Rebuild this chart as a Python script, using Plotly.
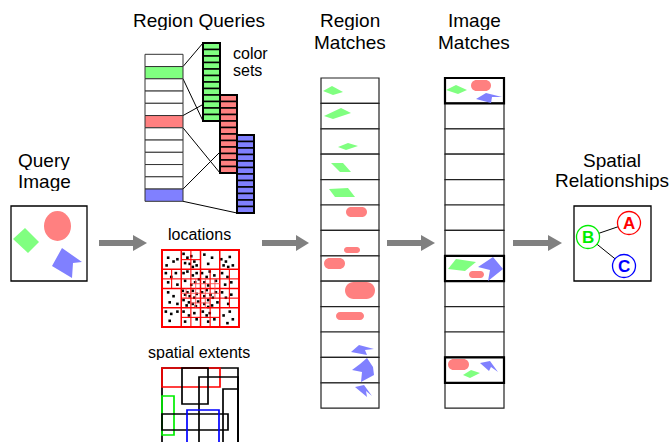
import plotly.graph_objects as go

W, H = 671, 442
GREEN, RED, BLUE, GRAY = "#80ff80", "#ff8080", "#8080ff", "#808080"
FONT = "Liberation Sans, Arial, Helvetica, sans-serif"

# ---- text labels: (text, x, y, size, anchor) ----
labels = [
    ("Region Queries", 199, 20, 19, "center"),
    ("color", 231, 53, 16, "left"),
    ("sets", 231, 70, 16, "left"),
    ("Query", 44, 160.5, 19, "center"),
    ("Image", 44, 181.5, 19, "center"),
    ("locations", 199, 234, 16, "center"),
    ("spatial extents", 199, 352, 16, "center"),
    ("Region", 350, 20, 19, "center"),
    ("Matches", 350, 42, 19, "center"),
    ("Image", 474, 20, 19, "center"),
    ("Matches", 474, 42, 19, "center"),
    ("Spatial", 612, 160.5, 19, "center"),
    ("Relationships", 612, 180.5, 19, "center"),
]

# ---- query image ----
query_box = (11, 206, 87, 281)
query_ellipse = (44, 211, 71, 241)
query_diamond = [(13, 239), (25, 228), (39, 242), (28, 253)]
query_chevron = [(62, 248), (82, 262), (73, 263), (72, 278), (52, 266)]

# ---- gray arrows: (x_start, x_head, x_end, y_center) ----
arrows = [(99, 133, 147, 243), (262, 296, 309, 243), (387, 421, 435, 243), (513, 548, 562, 243)]

# ---- region queries ----
rq_x = (145, 183)
rq_top, rq_row_h, rq_rows = 54.3, 12.25, 12
rq_highlight = {1: GREEN, 5: RED, 11: BLUE}
color_sets = [  # colour, x0, x1, y0, y1, row index in query list
    (GREEN, 203, 220, 43, 121, 1),
    (RED, 220, 237, 95, 173, 5),
    (BLUE, 237, 254, 135, 213, 11),
]
color_set_cells = 12

# ---- locations quadtree ----
loc_box = (162, 250, 239, 327)
loc_splits1 = [(1, 0), (0, 1), (1, 1), (2, 1), (3, 1), (1, 2), (2, 2), (3, 2), (1, 3), (2, 3)]
loc_splits2 = [(1, 1, 1, 1), (2, 1, 0, 1), (2, 1, 1, 1), (1, 2, 0, 0), (1, 2, 1, 0), (1, 2, 1, 1),
               (2, 2, 0, 0), (2, 2, 1, 0), (2, 2, 0, 1)]
loc_dots = [
    (0.08, 0.1), (0.15, 0.15), (0.06, 0.2), (0.2, 0.12),
    (0.28, 0.05), (0.33, 0.1), (0.38, 0.08), (0.3, 0.17), (0.36, 0.18), (0.42, 0.15), (0.45, 0.2), (0.4, 0.22),
    (0.55, 0.06), (0.65, 0.1), (0.6, 0.18),
    (0.77, 0.12), (0.83, 0.15), (0.88, 0.09), (0.8, 0.2), (0.92, 0.2), (0.86, 0.22),
    (0.05, 0.3), (0.12, 0.35), (0.18, 0.3), (0.08, 0.42), (0.2, 0.45),
    (0.28, 0.3), (0.33, 0.28), (0.4, 0.33), (0.45, 0.3), (0.3, 0.4), (0.38, 0.45), (0.43, 0.42), (0.48, 0.38),
    (0.52, 0.3), (0.58, 0.35), (0.62, 0.28), (0.68, 0.33), (0.55, 0.42), (0.6, 0.46), (0.7, 0.4),
    (0.78, 0.3), (0.85, 0.35), (0.9, 0.42), (0.82, 0.45),
    (0.08, 0.55), (0.15, 0.6), (0.1, 0.68), (0.2, 0.7),
    (0.27, 0.53), (0.3, 0.58), (0.33, 0.55), (0.36, 0.6), (0.4, 0.53), (0.42, 0.62), (0.45, 0.57),
    (0.28, 0.65), (0.35, 0.68), (0.4, 0.7), (0.47, 0.67), (0.32, 0.72), (0.44, 0.73),
    (0.52, 0.55), (0.55, 0.6), (0.58, 0.52), (0.6, 0.65), (0.63, 0.58), (0.66, 0.62), (0.7, 0.55),
    (0.72, 0.68), (0.55, 0.7), (0.65, 0.72), (0.6, 0.74),
    (0.78, 0.55), (0.83, 0.62), (0.9, 0.58), (0.86, 0.7),
    (0.05, 0.8), (0.12, 0.83), (0.2, 0.8), (0.1, 0.92),
    (0.28, 0.8), (0.35, 0.85), (0.42, 0.82), (0.3, 0.93), (0.45, 0.9),
    (0.53, 0.8), (0.58, 0.85), (0.62, 0.82), (0.68, 0.9), (0.6, 0.93),
    (0.8, 0.85), (0.88, 0.8), (0.92, 0.9), (0.85, 0.95),
]

# ---- spatial extents: x0, y0, x1, y1, colour ----
extents = [
    (162, 368, 238, 470, "black"),
    (162, 368, 220, 387, "#ff0000"),
    (182, 368, 208, 404, "black"),
    (199, 377, 238, 470, "black"),
    (223, 389, 238, 470, "black"),
    (162, 396, 174, 435, "#00ee00"),
    (162, 414, 228, 430, "black"),
    (187, 410, 219, 470, "#0000ff"),
]

# ---- region / image match lists ----
rm_x = (321, 379)
im_x = (445, 504)
match_top, match_row_h, match_rows = 78, 25.4, 13
im_highlight = [0, 7, 11]

rm_diamonds = [
    [(323, 91), (332, 86), (343, 92), (333, 95)],
    [(324, 116), (341, 108), (351, 113), (333, 119)],
    [(338, 147), (348, 143), (358, 146), (346, 150)],
    [(331, 163), (343, 163), (351, 172), (340, 172)],
    [(329, 189), (348, 188), (355, 197), (335, 197)],
]
rm_pills = [(346, 207, 367, 217), (344, 247, 360, 253), (324, 258, 345, 269),
            (345, 282, 375, 299), (336, 312, 364, 320)]
rm_chevrons = [
    [(351, 352), (359, 345), (374, 349), (365, 350), (367, 355)],
    [(352, 370), (360, 364), (367, 358), (373, 367), (374, 375), (361, 382), (362, 372)],
    [(355, 387), (364, 385), (372, 396), (366, 391), (367, 397)],
]
im_diamonds = [
    [(446, 90), (456, 85), (467, 90), (458, 94)],
    [(456, 259), (476, 262), (465, 271), (448, 269)],
    [(463, 375), (471, 370), (480, 373), (470, 378)],
]
im_pills = [(471, 80, 491, 91), (469, 271, 484, 278), (448, 359, 469, 370)]
im_chevrons = [
    [(476, 99), (486, 93), (502, 97), (492, 97), (491, 103)],
    [(478, 267), (493, 257), (503, 269), (488, 281), (490, 270)],
    [(480, 363), (490, 361), (498, 372), (491, 367), (489, 371)],
]

# ---- spatial relationships ----
rel_box = (574, 206, 651, 281)
rel_nodes = [("A", 629, 223, "#ff0000"), ("B", 588, 237, "#00ee00"), ("C", 624, 266, "#0000ff")]
rel_r = 11.5
rel_edges = [("B", "A"), ("B", "C")]

# ================= build =================
shapes = []


def rect(x0, y0, x1, y1, fill="rgba(0,0,0,0)", color="black", width=1.0):
    shapes.append(dict(type="rect", x0=x0, y0=y0, x1=x1, y1=y1, fillcolor=fill,
                       line=dict(color=color, width=width), layer="above"))


def line(x0, y0, x1, y1, color="black", width=1.0):
    shapes.append(dict(type="line", x0=x0, y0=y0, x1=x1, y1=y1,
                       line=dict(color=color, width=width), layer="above"))


def poly(pts, fill, color=None, width=0):
    p = "M " + " L ".join(f"{x},{y}" for x, y in pts) + " Z"
    shapes.append(dict(type="path", path=p, fillcolor=fill,
                       line=dict(color=color or fill, width=width), layer="above"))


def pill(x0, y0, x1, y1, fill):
    r = min((y1 - y0) / 2, (x1 - x0) / 2)
    k = 0.5523 * r
    p = (f"M {x0+r},{y0} L {x1-r},{y0} C {x1-r+k},{y0} {x1},{y0+r-k} {x1},{y0+r} "
         f"L {x1},{y1-r} C {x1},{y1-r+k} {x1-r+k},{y1} {x1-r},{y1} "
         f"L {x0+r},{y1} C {x0+r-k},{y1} {x0},{y1-r+k} {x0},{y1-r} "
         f"L {x0},{y0+r} C {x0},{y0+r-k} {x0+r-k},{y0} {x0+r},{y0} Z")
    shapes.append(dict(type="path", path=p, fillcolor=fill, line=dict(color=fill, width=0), layer="above"))


# query image
rect(*query_box, fill="white", width=1.3)
shapes.append(dict(type="circle", x0=query_ellipse[0], y0=query_ellipse[1], x1=query_ellipse[2],
                   y1=query_ellipse[3], fillcolor=RED, line=dict(color=RED, width=0), layer="above"))
poly(query_diamond, GREEN)
poly(query_chevron, BLUE)

# arrows
for xs, xh, xe, c in arrows:
    poly([(xs, c - 3), (xh, c - 3), (xh, c - 8), (xe, c), (xh, c + 8), (xh, c + 3), (xs, c + 3)], GRAY)

# region queries: connecting lines first
for col, cx0, cx1, cy0, cy1, ri in color_sets:
    ry0 = rq_top + ri * rq_row_h
    ry1 = ry0 + rq_row_h
    line(rq_x[1], ry0, cx0, cy0, width=1)
    line(rq_x[1], ry1, cx0, cy1, width=1)
for i in range(rq_rows):
    y0 = rq_top + i * rq_row_h
    rect(rq_x[0], y0, rq_x[1], y0 + rq_row_h, fill=rq_highlight.get(i, "white"), color="#333333", width=1)
for col, cx0, cx1, cy0, cy1, ri in color_sets:
    h = (cy1 - cy0) / color_set_cells
    for j in range(color_set_cells):
        rect(cx0, cy0 + j * h, cx1, cy0 + (j + 1) * h, fill=col, color="black", width=1.3)
    rect(cx0, cy0, cx1, cy1, color="black", width=2)

# locations quadtree
lx0, ly0, lx1, ly1 = loc_box
cell = (lx1 - lx0) / 4
LRED = "#ff0000"
for k in range(1, 4):
    line(lx0 + k * cell, ly0, lx0 + k * cell, ly1, color=LRED, width=1.5)
    line(lx0, ly0 + k * cell, lx1, ly0 + k * cell, color=LRED, width=1.5)
for c, r in loc_splits1:
    cx, cy = lx0 + c * cell, ly0 + r * cell
    line(cx + cell / 2, cy, cx + cell / 2, cy + cell, color=LRED, width=1.1)
    line(cx, cy + cell / 2, cx + cell, cy + cell / 2, color=LRED, width=1.1)
for c, r, sc, sr in loc_splits2:
    h = cell / 2
    cx, cy = lx0 + c * cell + sc * h, ly0 + r * cell + sr * h
    line(cx + h / 2, cy, cx + h / 2, cy + h, color="#ff5050", width=0.9)
    line(cx, cy + h / 2, cx + h, cy + h / 2, color="#ff5050", width=0.9)
rect(lx0, ly0, lx1, ly1, color=LRED, width=2)

# spatial extents
for x0, y0, x1, y1, col in extents:
    rect(x0, y0, x1, y1, color=col, width=1.7)

# match lists
for xr, hl in ((rm_x, []), (im_x, im_highlight)):
    for i in range(match_rows):
        y0 = match_top + i * match_row_h
        rect(xr[0], y0, xr[1], y0 + match_row_h, fill="white", color="#222222", width=1.2)
    for i in hl:
        y0 = match_top + i * match_row_h
        rect(xr[0], y0, xr[1], y0 + match_row_h, color="black", width=2.2)
for d in rm_diamonds + im_diamonds:
    poly(d, GREEN)
for p in rm_pills + im_pills:
    pill(*p, RED)
for ch in rm_chevrons + im_chevrons:
    poly(ch, BLUE)

# spatial relationships
rect(*rel_box, fill="white", width=1.3)
pos = {n: (x, y) for n, x, y, _ in rel_nodes}
for a, b in rel_edges:
    line(*pos[a], *pos[b], width=1)
for n, x, y, col in rel_nodes:
    shapes.append(dict(type="circle", x0=x - rel_r, y0=y - rel_r, x1=x + rel_r, y1=y + rel_r,
                       fillcolor="white", line=dict(color=col, width=1.3), layer="above"))

annotations = []
for t, x, y, s, anc in labels:
    annotations.append(dict(text=t, x=x, y=y, xref="x", yref="y", showarrow=False, height=s,
                            xanchor=anc, yanchor="middle", font=dict(family=FONT, size=s, color="black")))
for n, x, y, col in rel_nodes:
    annotations.append(dict(text=f"<b>{n}</b>", x=x, y=y + 0.5, xref="x", yref="y", showarrow=False,
                            xanchor="center", yanchor="middle", font=dict(family=FONT, size=17, color=col)))

fig = go.Figure()
fig.add_trace(go.Scatter(
    x=[lx0 + u * (lx1 - lx0) for u, v in loc_dots],
    y=[ly0 + v * (ly1 - ly0) for u, v in loc_dots],
    mode="markers", marker=dict(size=2.6, color="black", symbol="square"),
    hoverinfo="skip", showlegend=False))

fig.update_layout(
    width=W, height=H, autosize=False,
    margin=dict(l=0, r=0, t=0, b=0, pad=0),
    paper_bgcolor="white", plot_bgcolor="white",
    xaxis=dict(range=[0, W], visible=False, fixedrange=True),
    yaxis=dict(range=[H, 0], visible=False, fixedrange=True),
    shapes=shapes, annotations=annotations, showlegend=False,
)
fig.write_html("out.html", config={"displayModeBar": False},
               post_script="document.body.style.margin='0';document.body.style.overflow='hidden';")
